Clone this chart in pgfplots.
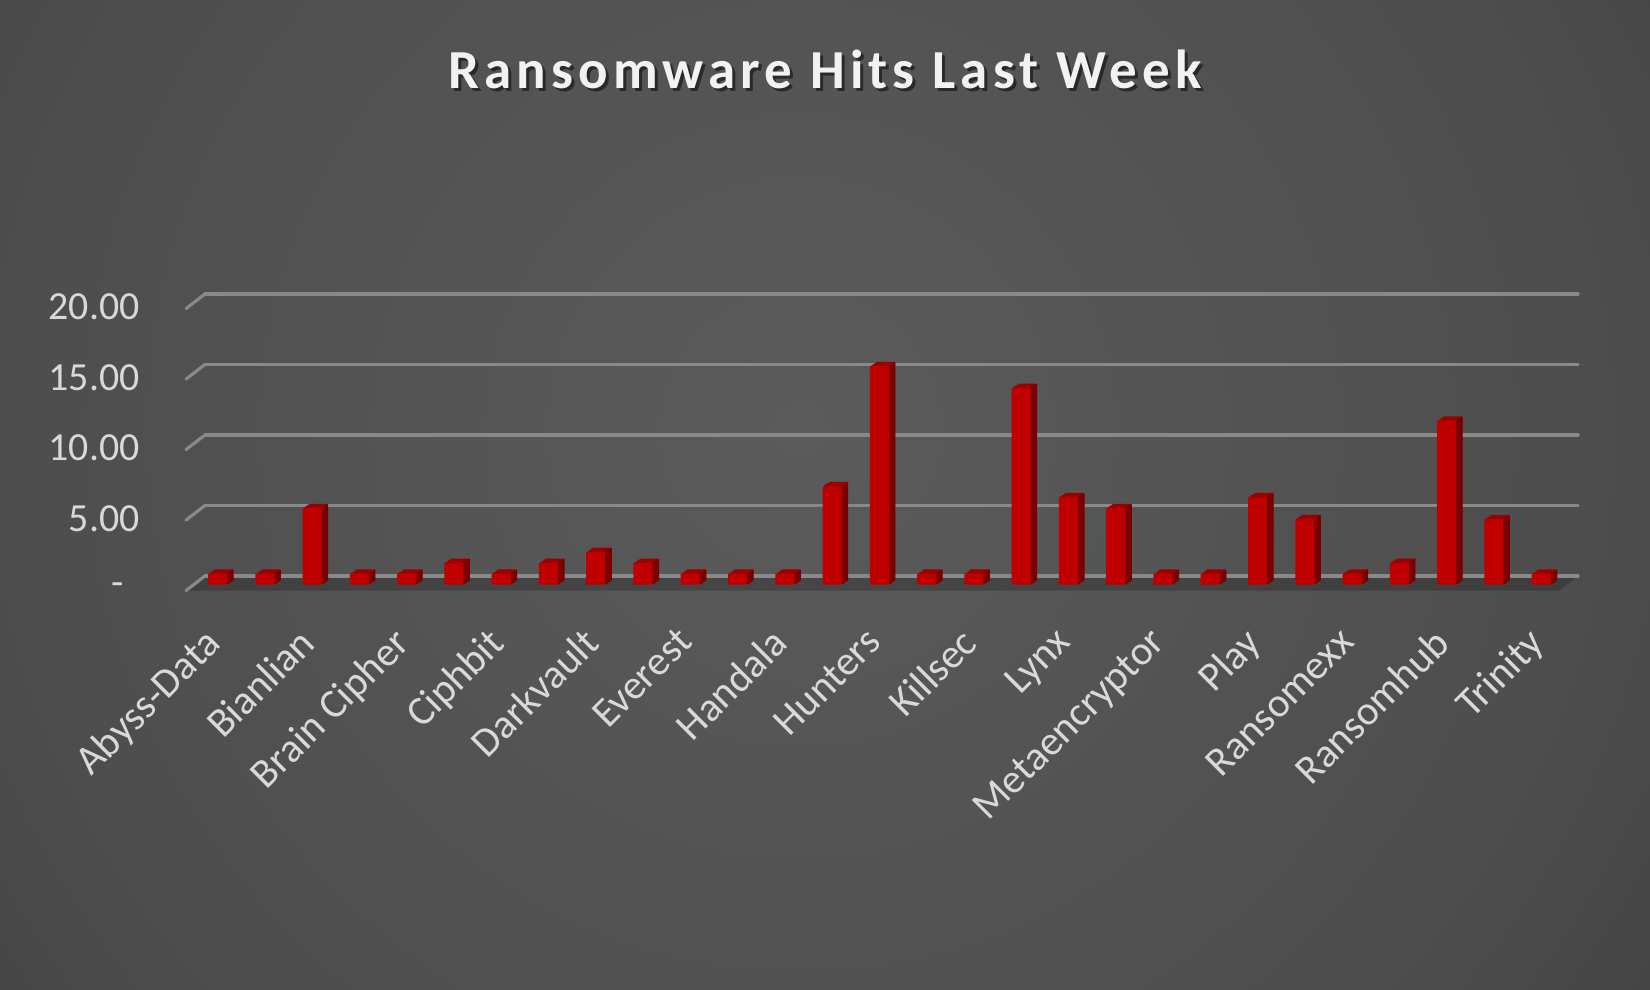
\documentclass[border=0pt]{standalone}
\usepackage{fontspec}
\setmainfont{Carlito}
\newfontfamily\titlefont[LetterSpace=9.4]{Carlito}
\usepackage{pgfplots}
\pgfplotsset{compat=1.18}
\usepackage{pgfplotstable}

\definecolor{barfront}{HTML}{C00000}
\definecolor{bartop}{HTML}{9A0000}
\definecolor{barside}{HTML}{780000}
\definecolor{gridc}{HTML}{898989}
\definecolor{labelc}{HTML}{D9D9D9}

% circular background gradient, 50bp of the shading = 500bp on the page
\pgfdeclareradialshading{bgshade}{\pgfpoint{0bp}{0bp}}{%
  color(0bp)=(rgb,255:red,91;green,91;blue,91);
  color(20bp)=(rgb,255:red,77;green,77;blue,77);
  color(30bp)=(rgb,255:red,62;green,62;blue,62);
  color(45bp)=(rgb,255:red,46;green,46;blue,46);
  color(50bp)=(rgb,255:red,42;green,42;blue,42)}

% share of last week's hits (percent), one row per group
\pgfplotstableread{
idx val
0 0.78
1 0.78
2 5.43
3 0.78
4 0.78
5 1.55
6 0.78
7 1.55
8 2.33
9 1.55
10 0.78
11 0.78
12 0.78
13 6.98
14 15.50
15 0.78
16 0.78
17 13.95
18 6.20
19 5.43
20 0.78
21 0.78
22 6.20
23 4.65
24 0.78
25 1.55
26 11.63
27 4.65
28 0.78
}\hits

\begin{document}
\begin{tikzpicture}
\begin{scope}
  \clip (0,0) rectangle (825bp,495bp);
  \shade[shading=bgshade] (-100bp,-220bp) rectangle (900bp,780bp);
\end{scope}
\useasboundingbox (0,0) rectangle (825bp,495bp);

% floor of the 3d plot area
\fill[black, opacity=0.2] (102.5bp,207bp) -- (789bp,207bp) -- (779.5bp,199.7bp) -- (93bp,199.7bp) -- cycle;

% title
\node[anchor=base, text=black, opacity=0.5, font=\titlefont\bfseries\fontsize{27.6}{32}\selectfont]
  at (414bp,449bp) {Ransomware Hits Last Week};
\node[anchor=base, text=white!95!black, font=\titlefont\bfseries\fontsize{27.6}{32}\selectfont]
  at (412.5bp,450.5bp) {Ransomware Hits Last Week};

\begin{axis}[
  at={(102.5bp,207bp)}, anchor=south west,
  scale only axis, width=686.5bp, height=141bp,
  xmin=-0.2644, xmax=28.78, ymin=0, ymax=20,
  clip=false,
  axis line style={draw=none},
  major tick length=0pt,
  ymajorgrids,
  grid style={gridc, line width=1.6bp, line cap=round},
  ytick={0,5,10,15,20},
  yticklabels={-\rule{8bp}{0pt},5.00,10.00,15.00,20.00},
  yticklabel style={font=\fontsize{20}{24}\selectfont, text=labelc, anchor=east, inner sep=0pt, xshift=-32.5bp, yshift=-6.5bp},
  xtick={0,2,...,28},
  xticklabels={Abyss-Data,Bianlian,Brain Cipher,Ciphbit,Darkvault,Everest,Handala,Hunters,Killsec,Lynx,Metaencryptor,Play,Ransomexx,Ransomhub,Trinity},
  xticklabel style={font=\fontsize{20.6}{24}\selectfont, text=labelc, inner sep=0pt, xshift=-7.5bp, yshift=-24.5bp, rotate=45, anchor=north east},
]

% left stubs of the gridlines
\pgfplotsinvokeforeach{0,5,10,15,20}{
  \draw[gridc, line width=1.6bp, line cap=round] (axis cs:-0.2644,#1) -- ++(-9.5bp,-7.3bp);
}

% depth of the columns: top faces
\addplot[ybar, bar width=9.5bp, bar shift=3.15bp, yshift=-2.2bp, fill=bartop, draw=none] table[x=idx,y=val]{\hits};
\addplot[ybar, bar width=9.5bp, bar shift=2.3625bp, yshift=-2.7375bp, fill=bartop, draw=none] table[x=idx,y=val]{\hits};
\addplot[ybar, bar width=9.5bp, bar shift=1.575bp, yshift=-3.275bp, fill=bartop, draw=none] table[x=idx,y=val]{\hits};
\addplot[ybar, bar width=9.5bp, bar shift=0.7875bp, yshift=-3.8125bp, fill=bartop, draw=none] table[x=idx,y=val]{\hits};

% side faces
\addplot[ybar, bar width=0.9bp, bar shift=7.6bp, yshift=-2.47bp, fill=barside, draw=none] table[x=idx,y=val]{\hits};
\addplot[ybar, bar width=0.9bp, bar shift=6.8bp, yshift=-3.0bp, fill=barside, draw=none] table[x=idx,y=val]{\hits};
\addplot[ybar, bar width=0.9bp, bar shift=6.0bp, yshift=-3.55bp, fill=barside, draw=none] table[x=idx,y=val]{\hits};
\addplot[ybar, bar width=0.9bp, bar shift=5.2bp, yshift=-4.08bp, fill=barside, draw=none] table[x=idx,y=val]{\hits};

% front faces
\addplot[ybar, bar width=9.5bp, bar shift=0bp, yshift=-4.35bp, fill=barfront, draw=none] table[x=idx,y=val]{\hits};
\end{axis}
\end{tikzpicture}
\end{document}
